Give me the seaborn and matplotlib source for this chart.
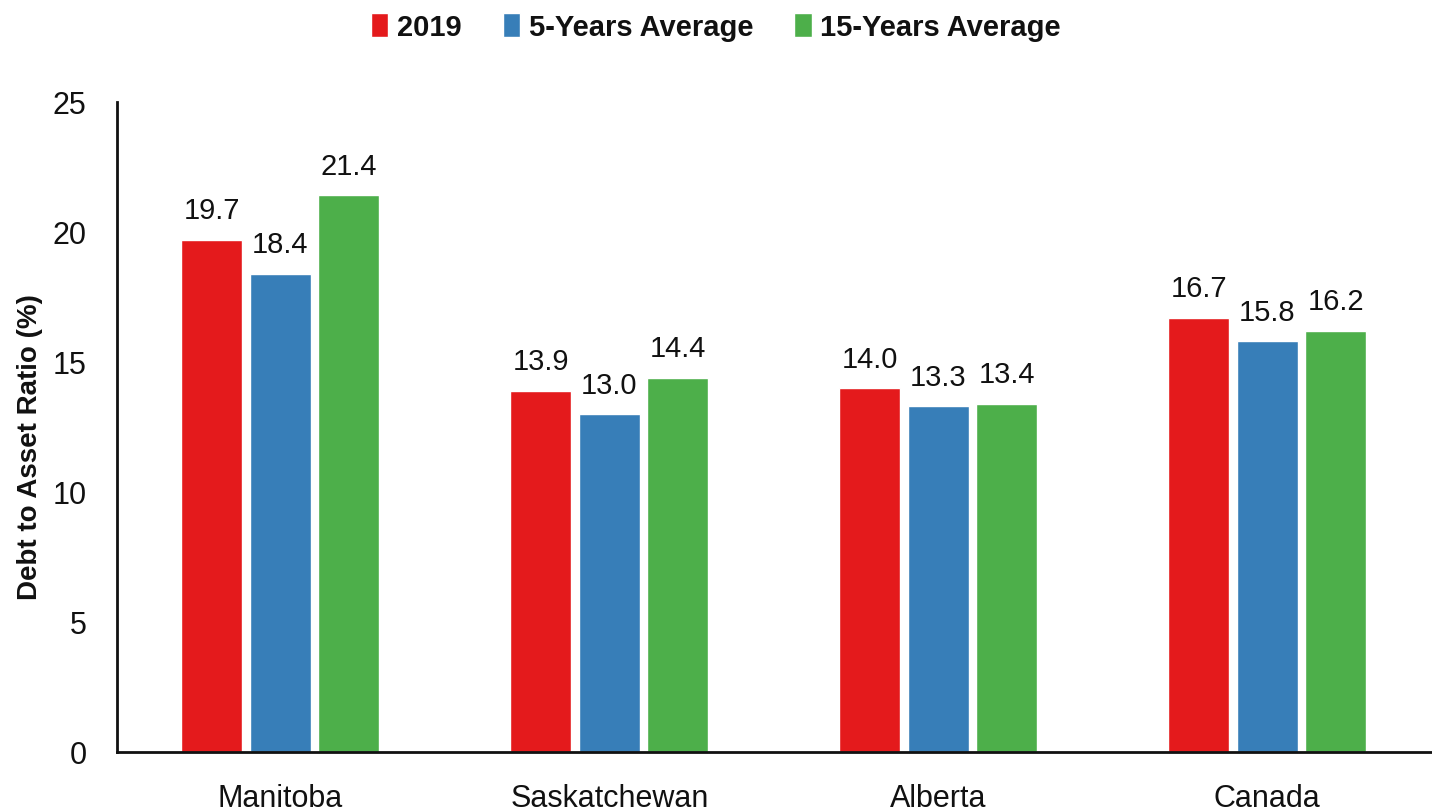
import matplotlib
matplotlib.use("Agg")
import matplotlib.pyplot as plt
import seaborn as sns
import pandas as pd

# ── Data ───────────────────────────────────────────────────────────────────
regions = ["Manitoba", "Saskatchewan", "Alberta", "Canada"]
series = ["2019", "5-Years Average", "15-Years Average"]
v2019 = [19.7, 13.9, 14.0, 16.7]
v5yr = [18.4, 13.0, 13.3, 15.8]
v15yr = [21.4, 14.4, 13.4, 16.2]
colors = ["#E41A1C", "#377EB8", "#4DAF4A"]

df = pd.DataFrame({
    "region": regions * 3,
    "series": [s for s in series for _ in regions],
    "value": v2019 + v5yr + v15yr,
})

# ── Style ──────────────────────────────────────────────────────────────────
sns.set_theme(style="white")
plt.rcParams["font.family"] = ["Liberation Sans Narrow", "Liberation Sans", "DejaVu Sans"]
INK = "#111111"

fig = plt.figure(figsize=(14.32, 8.12), dpi=100)
ax = fig.add_axes([0.0817, 0.0727, 0.918, 0.8006])

sns.barplot(data=df, x="region", y="value", hue="series", order=regions,
            hue_order=series, palette=colors, width=0.625, gap=0.11,
            saturation=1, ax=ax, legend=True)

for cont in ax.containers:
    ax.bar_label(cont, fmt="%.1f", padding=11, fontsize=21, color=INK)

ax.set_ylim(0, 25)
ax.set_xlim(-0.497, 3.5)
ax.set_yticks(range(0, 26, 5))
ax.tick_params(axis="both", length=0, labelsize=22, colors=INK)
ax.tick_params(axis="y", pad=22)
ax.tick_params(axis="x", pad=22)
ax.set_xlabel("")
ax.set_ylabel("Debt to Asset Ratio (%)", fontsize=20, fontweight="bold", color=INK)
ax.yaxis.set_label_coords(-0.056, 0.47)

sns.despine(ax=ax, top=True, right=True)
for side in ["left", "bottom"]:
    ax.spines[side].set_color(INK)
    ax.spines[side].set_linewidth(2)

ax.legend_.remove()
handles, labels = ax.get_legend_handles_labels()
leg = fig.legend(handles[:3], labels[:3], loc="upper center",
                 bbox_to_anchor=(0.5, 1.015), ncol=3, frameon=False,
                 prop={"size": 21, "weight": "bold"},
                 handlelength=0.6, handleheight=0.9, handletextpad=0.3,
                 columnspacing=1.4)
for t in leg.get_texts():
    t.set_color(INK)

fig.savefig("out.png", dpi=100)
